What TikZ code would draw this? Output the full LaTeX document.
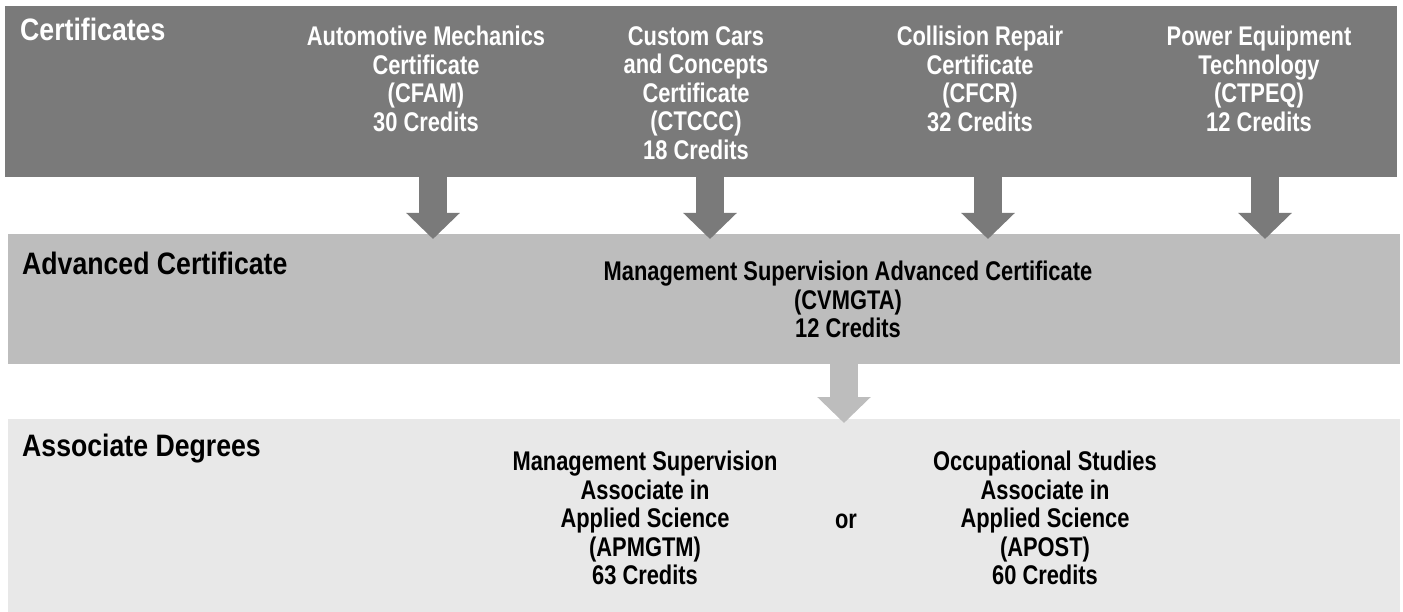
\documentclass[tikz,border=0pt]{standalone}
\usepackage{fontspec}
\setmainfont{Liberation Sans}[FakeStretch=0.86]
\newfontfamily\narrowfont{Liberation Sans}[FakeStretch=0.81]
\usetikzlibrary{arrows.meta}
\definecolor{certgray}{HTML}{7A7A7A}
\definecolor{advgray}{HTML}{BDBDBD}
\definecolor{assocgray}{HTML}{E8E8E8}
\tikzset{
  band/.style={rectangle, inner sep=0pt, anchor=north west},
  head/.style={font=\bfseries\fontsize{31}{34}\selectfont, inner sep=0pt, anchor=north west},
  body/.style={font=\narrowfont\bfseries\fontsize{27}{28.5}\selectfont, align=center, inner sep=0pt, anchor=north},
  downarrow/.style={line width=28pt, -{Triangle[width=52pt,length=26pt]}},
}
\begin{document}
\begin{tikzpicture}[x=1pt,y=-1pt]
      \useasboundingbox (0,0) rectangle (1403,612);
      % the three bands
      \node[band, fill=certgray, minimum width=1392pt, minimum height=171pt] (cert) at (5,6) {};
      \node[band, fill=advgray, minimum width=1392pt, minimum height=130pt] (adv) at (8,234) {};
      \node[band, fill=assocgray, minimum width=1392pt, minimum height=193pt] (assoc) at (8,419) {};
      % headings
      \node[head, text=white] (certhead) at (20,18) {Certificates};
      \node[head] (advhead) at (22,252) {Advanced Certificate};
      \node[head] (assochead) at (22,434) {Associate Degrees};
      % certificates
      \node[body, text=white] (cfam) at (426,26) {Automotive Mechanics\\Certificate\\(CFAM)\\30 Credits};
      \node[body, text=white] (ctccc) at (696,26) {Custom Cars\\and Concepts\\Certificate\\(CTCCC)\\18 Credits};
      \node[body, text=white] (cfcr) at (980,26) {Collision Repair\\Certificate\\(CFCR)\\32 Credits};
      \node[body, text=white] (ctpeq) at (1259,26) {Power Equipment\\Technology\\(CTPEQ)\\12 Credits};
      % advanced certificate
      \node[body] (cvmgta) at (848,261) {Management Supervision Advanced Certificate\\(CVMGTA)\\12 Credits};
      % associate degrees
      \node[body] (apmgtm) at (645,451) {Management Supervision\\Associate in\\Applied Science\\(APMGTM)\\63 Credits};
      \node[body, anchor=base] (or) at (846,528) {or};
      \node[body] (apost) at (1045,451) {Occupational Studies\\Associate in\\Applied Science\\(APOST)\\60 Credits};
      % arrow columns
      \coordinate (a1) at (433,0);
      \coordinate (a2) at (710,0);
      \coordinate (a3) at (988,0);
      \coordinate (a4) at (1265,0);
      \coordinate (a5) at (844,0);
      \begin{scope}[downarrow]
        \draw[certgray] (cert.south -| a1) to ([yshift=-5pt]adv.north -| a1);
        \draw[certgray] (cert.south -| a2) to ([yshift=-5pt]adv.north -| a2);
        \draw[certgray] (cert.south -| a3) to ([yshift=-5pt]adv.north -| a3);
        \draw[certgray] (cert.south -| a4) to ([yshift=-5pt]adv.north -| a4);
        \draw[advgray] (adv.south -| a5) to ([yshift=-4pt]assoc.north -| a5);
      \end{scope}
    \end{tikzpicture}
\end{document}
